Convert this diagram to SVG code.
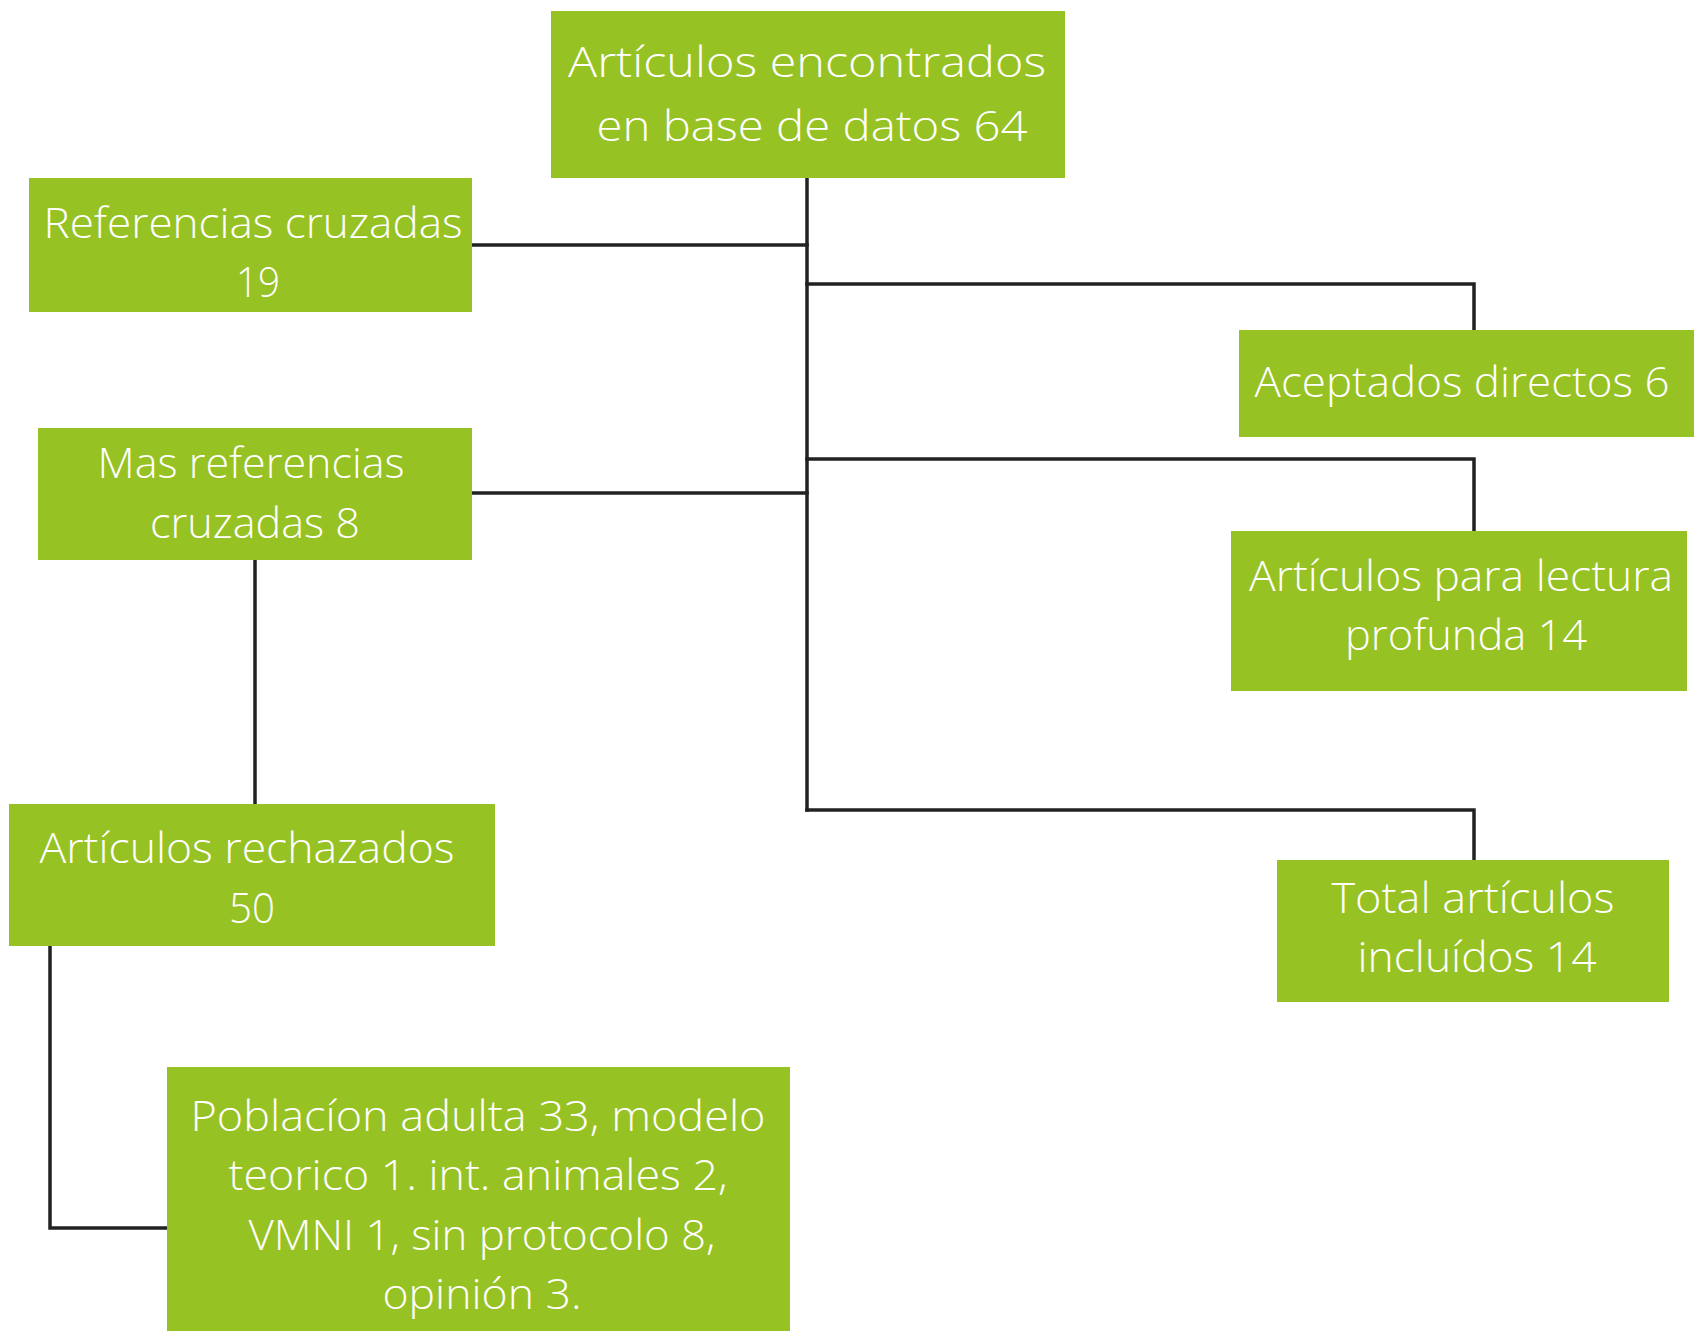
<svg xmlns="http://www.w3.org/2000/svg" width="1694" height="1331" viewBox="0 0 1694 1331">
<style>
.box{fill:#97c224;}
.t{font-family:"Open Sans","Source Sans Pro","Liberation Sans",sans-serif;font-weight:300;font-size:43px;fill:#ffffff;text-anchor:middle;}
.c{fill:none;stroke:#222222;stroke-width:3.5;stroke-linecap:square;}
</style>
<rect width="1694" height="1331" fill="#ffffff"/>
<g id="connectors">
<path class="c" d="M807 178 V810"/>
<path class="c" d="M472 245 H807"/>
<path class="c" d="M807 284 H1474 V330"/>
<path class="c" d="M807 459 H1474 V530"/>
<path class="c" d="M472 493 H807"/>
<path class="c" d="M807 810 H1474 V860"/>
<path class="c" d="M255 560 V804"/>
<path class="c" d="M50 946 V1228 H167"/>
</g>
<g id="n-encontrados">
<rect class="box" x="551" y="11" width="514" height="167"/>
<text class="t" x="807" y="77" textLength="478" lengthAdjust="spacingAndGlyphs">Artículos encontrados</text>
<text class="t" x="812" y="141" textLength="431" lengthAdjust="spacingAndGlyphs">en base de datos 64</text>
</g>
<g id="n-referencias">
<rect class="box" x="29" y="178" width="443" height="134"/>
<text class="t" x="253" y="238" textLength="419" lengthAdjust="spacingAndGlyphs">Referencias cruzadas</text>
<text class="t" x="258" y="297" textLength="44" lengthAdjust="spacingAndGlyphs">19</text>
</g>
<g id="n-aceptados">
<rect class="box" x="1239" y="330" width="455" height="107"/>
<text class="t" x="1462" y="397" textLength="415" lengthAdjust="spacingAndGlyphs">Aceptados directos 6</text>
</g>
<g id="n-mas-referencias">
<rect class="box" x="38" y="428" width="434" height="132"/>
<text class="t" x="251" y="478" textLength="307" lengthAdjust="spacingAndGlyphs">Mas referencias</text>
<text class="t" x="255" y="538" textLength="210" lengthAdjust="spacingAndGlyphs">cruzadas 8</text>
</g>
<g id="n-lectura">
<rect class="box" x="1231" y="531" width="456" height="160"/>
<text class="t" x="1461" y="591" textLength="424" lengthAdjust="spacingAndGlyphs">Artículos para lectura</text>
<text class="t" x="1466" y="650" textLength="242" lengthAdjust="spacingAndGlyphs">profunda 14</text>
</g>
<g id="n-rechazados">
<rect class="box" x="9" y="804" width="486" height="142"/>
<text class="t" x="247" y="863" textLength="415" lengthAdjust="spacingAndGlyphs">Artículos rechazados</text>
<text class="t" x="252" y="923" textLength="46" lengthAdjust="spacingAndGlyphs">50</text>
</g>
<g id="n-total">
<rect class="box" x="1277" y="860" width="392" height="142"/>
<text class="t" x="1473" y="913" textLength="283" lengthAdjust="spacingAndGlyphs">Total artículos</text>
<text class="t" x="1477" y="972" textLength="239" lengthAdjust="spacingAndGlyphs">incluídos 14</text>
</g>
<g id="n-poblacion">
<rect class="box" x="167" y="1067" width="623" height="264"/>
<text class="t" x="478" y="1131" textLength="575" lengthAdjust="spacingAndGlyphs">Poblacíon adulta 33, modelo</text>
<text class="t" x="478" y="1190" textLength="499" lengthAdjust="spacingAndGlyphs">teorico 1. int. animales 2,</text>
<text class="t" x="482" y="1250" textLength="467" lengthAdjust="spacingAndGlyphs">VMNI 1, sin protocolo 8,</text>
<text class="t" x="482" y="1309" textLength="199" lengthAdjust="spacingAndGlyphs">opinión 3.</text>
</g>
</svg>
